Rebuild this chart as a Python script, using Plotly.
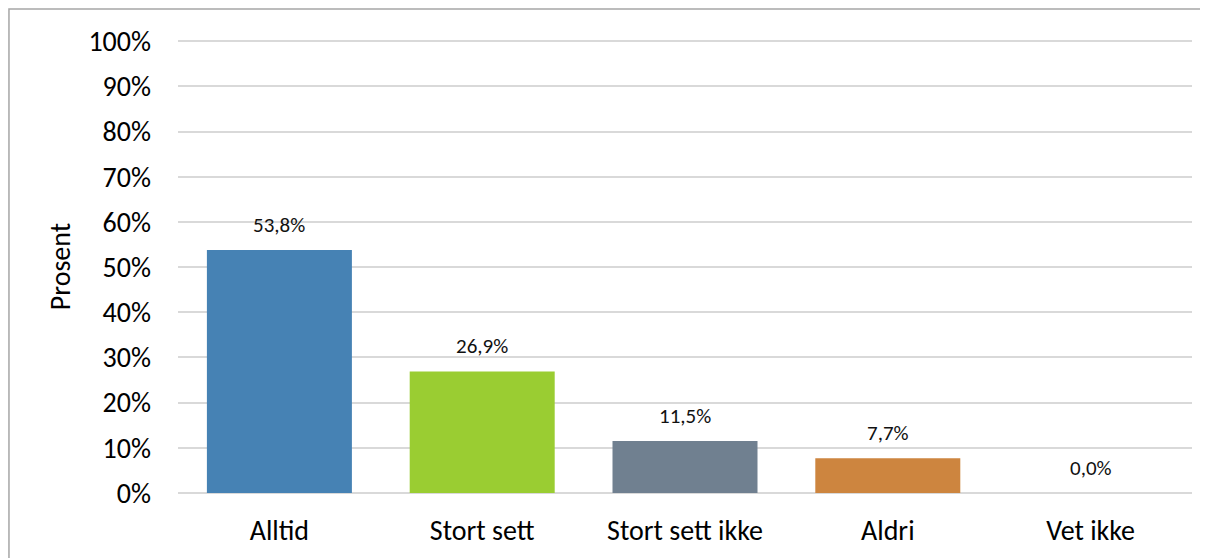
import plotly.graph_objects as go

categories = ["Alltid", "Stort sett", "Stort sett ikke", "Aldri", "Vet ikke"]
values = [53.8, 26.9, 11.5, 7.7, 0.0]
colors = ["#4682B4", "#9ACD32", "#708090", "#CD853F", "#B0B0B0"]
tick_vals = [0, 10, 20, 30, 40, 50, 60, 70, 80, 90, 100]
tick_text = [f"{v}%" for v in tick_vals]

font_family = "Carlito, Calibri, Lato, sans-serif"

fig = go.Figure()

fig.add_trace(go.Bar(
    x=categories,
    y=values,
    marker=dict(color=colors, line=dict(width=0)),
    width=0.715,
    hoverinfo="skip",
))

# data labels above each bar
for cat, val in zip(categories, values):
    fig.add_annotation(
        x=cat, y=val,
        text=f"{val:.1f}%".replace(".", ","),
        showarrow=False,
        yanchor="bottom",
        yshift=10,
        font=dict(size=21, color="#111111", family=font_family),
    )

# thin grey frame round the chart area
fig.add_shape(
    type="rect", xref="paper", yref="paper",
    x0=-0.1667, x1=1.2, y0=-0.3, y1=1.0684,
    line=dict(color="#A6A6A6", width=1.5),
    fillcolor="rgba(0,0,0,0)",
    layer="below",
)

fig.update_layout(
    width=1208,
    height=558,
    margin=dict(l=170, r=24, t=32, b=73),
    plot_bgcolor="white",
    paper_bgcolor="white",
    showlegend=False,
    font=dict(family=font_family, color="#000000"),
)

fig.update_xaxes(
    showgrid=False,
    showline=False,
    ticks="",
    tickfont=dict(size=28, family=font_family),
    ticklabelstandoff=18,
)

fig.update_yaxes(
    range=[0, 100.25],
    tickvals=tick_vals,
    ticktext=tick_text,
    showgrid=True,
    gridcolor="#D9D9D9",
    gridwidth=2,
    zeroline=True,
    zerolinecolor="#D9D9D9",
    zerolinewidth=2,
    showline=False,
    ticks="",
    tickfont=dict(size=28, family=font_family),
    ticklabelstandoff=26,
    title=dict(text="Prosent", font=dict(size=28, family=font_family), standoff=9),
)

fig.write_html("out.html")
